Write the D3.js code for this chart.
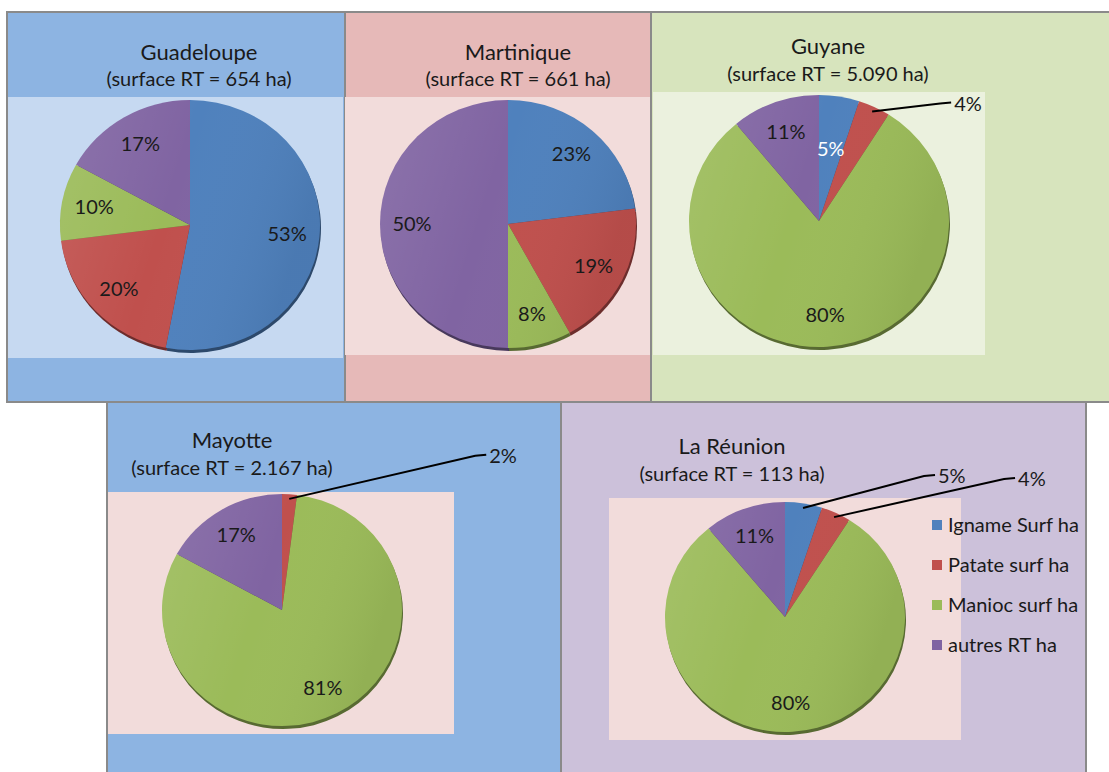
<!DOCTYPE html>
<html>
<head>
<meta charset="utf-8">
<script src="https://cdn.jsdelivr.net/npm/d3@7"></script>
<style>
  body { margin: 0; background: #fff; }
  text { font-family: Lato, "Noto Sans", sans-serif; fill: #1a1a1a; }
</style>
</head>
<body>
<script>
// data
const regions = ["Guadeloupe", "Martinique", "Guyane", "Mayotte", "La Réunion"];
const surfaces = ["654", "661", "5.090", "2.167", "113"];
const categories = ["Igname Surf ha", "Patate surf ha", "Manioc surf ha", "autres RT ha"];
const igname = [53, 23, 5, 0, 5];
const patate = [20, 19, 4, 2, 4];
const manioc = [10, 8, 80, 81, 80];
const autres = [17, 50, 11, 17, 11];
const colors = ["#4F81BD", "#C0504D", "#9BBB59", "#8064A2"];

// layout of each panel
const panels = [
  { box: [7, 12, 338, 390], outer: "#8DB4E2", plot: [8, 97, 335, 261], inner: "#C6D9F1",
    pie: { cx: 190, cy: 225, rx: 130, ry: 125 }, title: { x: 199, y: 60, dy: 26 } },
  { box: [345, 12, 306, 390], outer: "#E6B9B8", plot: [345, 97, 305, 258], inner: "#F2DCDB",
    pie: { cx: 508, cy: 224, rx: 128, ry: 124 }, title: { x: 518, y: 60, dy: 26 } },
  { box: [651, 12, 470, 390], outer: "#D7E4BD", plot: [653, 92, 332, 263], inner: "#EBF1DE",
    pie: { cx: 819, cy: 221, rx: 130, ry: 126 }, title: { x: 828, y: 54, dy: 27 },
    labelR: { 0: 0.58 }, white: [0], outside: { 1: [82, -8] } },
  { box: [107, 402, 454, 380], outer: "#8DB4E2", plot: [108, 492, 346, 242], inner: "#F2DCDB",
    pie: { cx: 282, cy: 610, rx: 120, ry: 116 }, title: { x: 232, y: 448, dy: 27 },
    outside: { 1: [200, -43] } },
  { box: [561, 402, 525, 380], outer: "#CCC1DA", plot: [609, 498, 352, 242], inner: "#F2DCDB",
    pie: { cx: 785, cy: 617, rx: 120, ry: 115 }, title: { x: 732, y: 454, dy: 27 },
    outside: { 0: [135, -32], 1: [184, -38] } }
];

const svg = d3.select("body").append("svg")
  .attr("width", 1109)
  .attr("height", 772);

const defs = svg.append("defs");
const shade = defs.append("linearGradient").attr("id", "shade")
  .attr("x1", "0%").attr("x2", "100%").attr("y1", "0%").attr("y2", "30%");
shade.append("stop").attr("offset", "0%").attr("stop-color", "#fff").attr("stop-opacity", 0.1);
shade.append("stop").attr("offset", "50%").attr("stop-color", "#fff").attr("stop-opacity", 0);
shade.append("stop").attr("offset", "100%").attr("stop-color", "#000").attr("stop-opacity", 0.06);

const pie = d3.pie().sort(null).value(d => d);

panels.forEach((p, i) => {
  const values = [igname[i], patate[i], manioc[i], autres[i]];
  const g = svg.append("g");

  // backgrounds
  g.append("rect")
    .attr("x", p.box[0]).attr("y", p.box[1])
    .attr("width", p.box[2]).attr("height", p.box[3])
    .attr("fill", p.outer)
    .attr("stroke", "#8a8a8a").attr("stroke-width", 2);
  g.append("rect")
    .attr("x", p.plot[0]).attr("y", p.plot[1])
    .attr("width", p.plot[2]).attr("height", p.plot[3])
    .attr("fill", p.inner);

  // titles
  g.append("text")
    .attr("x", p.title.x).attr("y", p.title.y)
    .attr("text-anchor", "middle")
    .style("font-size", "22px")
    .text(regions[i]);
  g.append("text")
    .attr("x", p.title.x).attr("y", p.title.y + p.title.dy)
    .attr("text-anchor", "middle")
    .style("font-size", "20px")
    .text("(surface RT = " + surfaces[i] + " ha)");

  const { cx, cy, rx, ry } = p.pie;
  const k = ry / rx;
  const arcs = pie(values);
  const arc = d3.arc().innerRadius(0).outerRadius(rx);

  // shadow rim
  g.append("g")
    .attr("transform", `translate(${cx + 1},${cy + 3}) scale(1,${k})`)
    .selectAll("path")
    .data(arcs.filter(a => a.value > 0))
    .join("path")
    .attr("d", arc)
    .attr("fill", d => d3.color(colors[d.index]).darker(1.6));

  const pg = g.append("g")
    .attr("transform", `translate(${cx},${cy}) scale(1,${k})`);
  pg.selectAll("path")
    .data(arcs.filter(a => a.value > 0))
    .join("path")
    .attr("d", arc)
    .attr("fill", d => colors[d.index]);
  pg.append("circle").attr("r", rx).attr("fill", "url(#shade)");

  // labels
  const outside = p.outside || {};
  arcs.forEach(a => {
    if (a.value <= 0) return;
    const mid = (a.startAngle + a.endAngle) / 2;
    const sx = Math.sin(mid), sy = -Math.cos(mid);
    if (outside[a.index]) {
      const ex = cx + sx * rx * 0.96, ey = cy + sy * rx * 0.96 * k;
      const tx = ex + outside[a.index][0], ty = ey + outside[a.index][1];
      g.append("path")
        .attr("d", d3.line()([[ex, ey], [tx - 14, ty], [tx - 3, ty - 1]]))
        .attr("fill", "none").attr("stroke", "#000").attr("stroke-width", 2);
      g.append("text")
        .attr("x", tx).attr("y", ty)
        .attr("dy", "0.35em")
        .style("font-size", "20px")
        .text(a.value + "%");
      return;
    }
    const f = (p.labelR && p.labelR[a.index]) || 0.75;
    g.append("text")
      .attr("x", cx + sx * rx * f)
      .attr("y", cy + sy * rx * f * k)
      .attr("dy", "0.35em")
      .attr("text-anchor", "middle")
      .style("font-size", "20px")
      .style("fill", (p.white || []).includes(a.index) ? "#fff" : null)
      .text(a.value + "%");
  });
});

// legend
const legendY = d3.scalePoint().domain(categories).range([525, 645]);
const legend = svg.append("g");
legend.selectAll("rect")
  .data(categories)
  .join("rect")
  .attr("x", 932).attr("y", d => legendY(d) - 5)
  .attr("width", 10).attr("height", 10)
  .attr("fill", (d, j) => colors[j]);
legend.selectAll("text")
  .data(categories)
  .join("text")
  .attr("x", 948).attr("y", d => legendY(d))
  .attr("dy", "0.35em")
  .style("font-size", "20px")
  .text(d => d);
</script>
</body>
</html>
